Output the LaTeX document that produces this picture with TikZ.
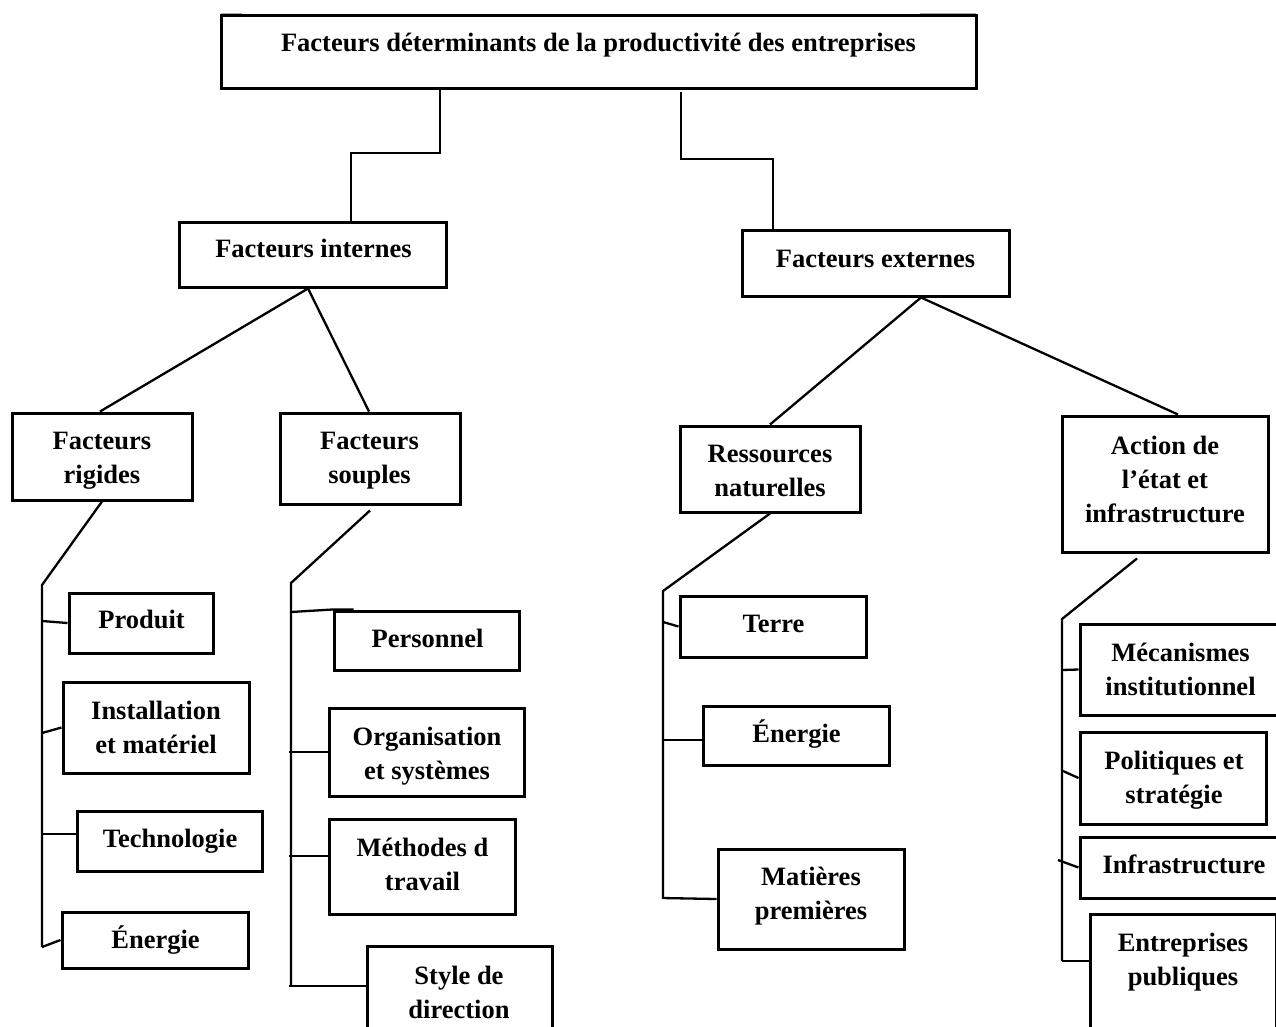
\documentclass[tikz,border=0pt]{standalone}
\usepackage{fontspec}
\setmainfont{Liberation Serif}
\newcommand\firstln{\rule{0pt}{24pt}}
\begin{document}
\begin{tikzpicture}[x=1pt,y=-1pt,
  box/.style={draw=black, line width=3pt, fill=white, inner sep=0pt},
  lbl/.style={anchor=north, align=center, inner sep=0pt, text=black,
    font=\fontsize{26.5}{34}\selectfont\bfseries},
  conn/.style={draw=black, line width=2.3pt}]
\useasboundingbox (0,0) rectangle (1276,1026);
\fill[white] (0,0) rectangle (1276,1026);
% boxes
\node[box, minimum width=755pt, minimum height=73pt] (top) at (598.5,51.5) {};
\node[box, minimum width=267pt, minimum height=65pt] (int) at (312.5,254.5) {};
\node[box, minimum width=267pt, minimum height=66pt] (ext) at (875.5,263) {};
\node[box, minimum width=180pt, minimum height=87pt] (rig) at (102,456.5) {};
\node[box, minimum width=180pt, minimum height=91pt] (sou) at (370,458.5) {};
\node[box, minimum width=144pt, minimum height=60pt] (prod) at (141,623) {};
\node[box, minimum width=186pt, minimum height=91pt] (inst) at (156,727.5) {};
\node[box, minimum width=185pt, minimum height=60pt] (tech) at (169.5,841) {};
\node[box, minimum width=186pt, minimum height=56pt] (en1) at (155,940) {};
\node[box, minimum width=185pt, minimum height=59pt] (pers) at (426.5,640.5) {};
\node[box, minimum width=195pt, minimum height=88pt] (org) at (426.5,752) {};
\node[box, minimum width=186pt, minimum height=95pt] (meth) at (422,866.5) {};
\node[box, minimum width=185pt, minimum height=99pt] (sty) at (459.5,995.5) {};
\node[box, minimum width=180pt, minimum height=86pt] (res) at (770,469) {};
\node[box, minimum width=186pt, minimum height=61pt] (terre) at (773,626.5) {};
\node[box, minimum width=186pt, minimum height=59pt] (en2) at (796,735.5) {};
\node[box, minimum width=186pt, minimum height=100pt] (mat) at (811,899) {};
\node[box, minimum width=206pt, minimum height=136pt] (act) at (1165,484) {};
\node[box, minimum width=201pt, minimum height=91pt] (mec) at (1180.5,669.5) {};
\node[box, minimum width=186pt, minimum height=92pt] (pol) at (1173,778) {};
\node[box, minimum width=208pt, minimum height=61pt] (inf) at (1184,867.5) {};
\node[box, minimum width=186pt, minimum height=131pt] (ent) at (1183,979.5) {};
% small fragments above the top box
\draw[gray!70, line width=1.5pt] (221,13.5) -- (242,13.5);
\draw[gray!70, line width=1.5pt] (920,13.5) -- (976,13.5);
% connectors, top levels
\draw[conn] (top.south -| 440,0) -- (440,153) -- (351,153) -- (int.north -| 351,0);
\draw[conn] (top.south -| 681,0) ++(0,2) -- (681,159) -- (773,159) -- (ext.north -| 773,0);
\draw[conn] (int.south -| 308,0) -- (rig.north -| 100,0);
\draw[conn] (int.south -| 308,0) -- (sou.north -| 369,0);
\draw[conn] (ext.south -| 921,0) -- (res.north -| 770,0);
\draw[conn] (ext.south -| 921,0) -- (act.north -| 1178,0);
% Facteurs rigides branch
\coordinate (r0) at (42,585);
\coordinate (r1) at (42,621);
\coordinate (r2) at (42,733);
\coordinate (r3) at (42,834);
\coordinate (r4) at (42,947);
\draw[conn] (rig.south) -- (r0) -- (r4);
\draw[conn] (r1) -- (prod.west);
\draw[conn] (r2) -- (inst.west);
\draw[conn] (r3) -- (tech.west |- r3);
\draw[conn] (r4) -- (en1.west);
% Facteurs souples branch
\coordinate (s0) at (291,583);
\coordinate (s1) at (291,612);
\coordinate (s2) at (289,752);
\coordinate (s3) at (289,856);
\coordinate (s4) at (289,986);
\draw[conn] (sou.south) ++(0,5) -- (s0) -- (291,986);
\draw[conn] (s1) -- (pers.north west) -- ++(21,0);
\draw[conn] (s2) -- (org.west);
\draw[conn] (s3) -- (meth.west |- s3);
\draw[conn] (s4) -- (sty.west |- s4);
% Ressources naturelles branch
\coordinate (n0) at (663,591);
\coordinate (n1) at (663,622);
\coordinate (n2) at (663,740);
\coordinate (n3) at (662,898);
\draw[conn] (res.south) -- (n0) -- (663,898);
\draw[conn] (n1) -- (terre.west);
\draw[conn] (n2) -- (en2.west |- n2);
\draw[conn] (n3) -- (mat.west);
% Action de l'etat branch
\coordinate (a0) at (1062,619);
\coordinate (a1) at (1062,670);
\coordinate (a2) at (1063,771);
\coordinate (a3) at (1058,860);
\coordinate (a4) at (1062,961);
\draw[conn] (act.south -| 1137,0) ++(0,5) -- (a0) -- (a4);
\draw[conn] (a1) -- (mec.west);
\draw[conn] (a2) -- (pol.west);
\draw[conn] (a3) -- (inf.west);
\draw[conn] (a4) -- (ent.west |- a4);
% texts
\node[lbl] (t-top) at (598.5,27) {\firstln Facteurs déterminants de la productivité des entreprises};
\node[lbl] (t-int) at (313.5,233) {\firstln Facteurs internes};
\node[lbl] (t-ext) at (875.5,243) {\firstln Facteurs externes};
\node[lbl] (t-rig) at (102,425) {\firstln Facteurs\\rigides};
\node[lbl] (t-sou) at (369.5,425) {\firstln Facteurs\\souples};
\node[lbl] (t-prod) at (141.5,604) {\firstln Produit};
\node[lbl] (t-inst) at (156,695) {\firstln Installation\\et matériel};
\node[lbl] (t-tech) at (170,823) {\firstln Technologie};
\node[lbl] (t-en1) at (155.5,924) {\firstln Énergie};
\node[lbl] (t-pers) at (427.5,623) {\firstln Personnel};
\node[lbl] (t-org) at (427,721) {\firstln Organisation\\et systèmes};
\node[lbl] (t-meth) at (422.5,832) {\firstln Méthodes d\\travail};
\node[lbl] (t-sty) at (459,960) {\firstln Style de\\direction};
\node[lbl] (t-res) at (770,438) {\firstln Ressources\\naturelles};
\node[lbl] (t-terre) at (773.5,608) {\firstln Terre};
\node[lbl] (t-en2) at (796.5,718) {\firstln Énergie};
\node[lbl] (t-mat) at (811,861) {\firstln Matières\\premières};
\node[lbl] (t-act) at (1165,430) {\firstln Action de\\l’état et\\infrastructure};
\node[lbl] (t-mec) at (1180.5,637) {\firstln Mécanismes\\institutionnel};
\node[lbl] (t-pol) at (1174,745) {\firstln Politiques et\\stratégie};
\node[lbl] (t-inf) at (1184,849) {\firstln Infrastructure};
\node[lbl] (t-ent) at (1183,927) {\firstln Entreprises\\publiques};
\end{tikzpicture}
\end{document}
